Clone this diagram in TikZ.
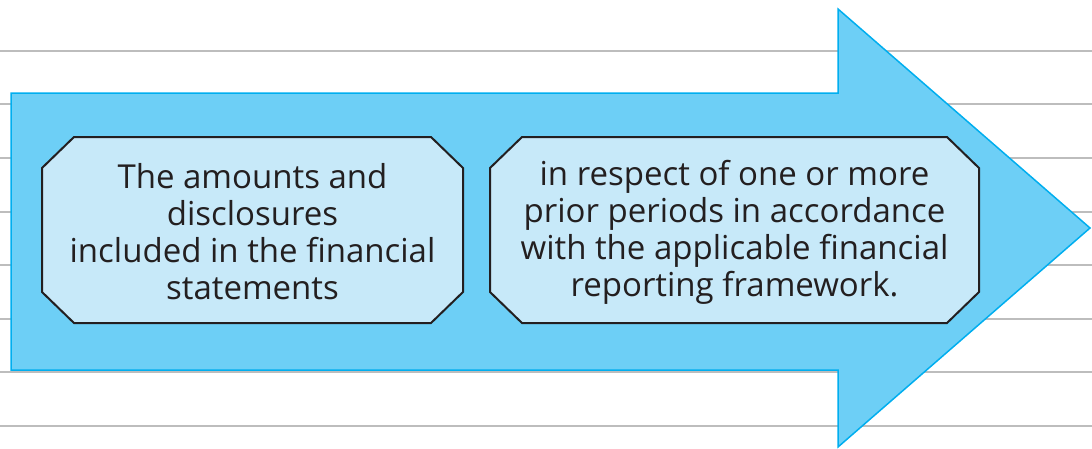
\documentclass[tikz,border=0pt]{standalone}
\usepackage{fontspec}
\setmainfont{Open Sans}
\definecolor{arrowfill}{HTML}{6DCFF6}
\definecolor{arrowline}{HTML}{00AEEF}
\definecolor{boxfill}{HTML}{C7E9F9}
\definecolor{boxline}{HTML}{231F20}
\definecolor{ruleline}{HTML}{BDBDBD}
\tikzset{
  panel/.style={fill=boxfill, draw=boxline, line width=2pt},
  paneltext/.style={text=boxline, align=center, inner sep=0pt,
    font=\fontsize{33}{37}\selectfont},
  bigarrow/.style={fill=arrowfill, draw=arrowline, line width=1.5pt}
}
% chamfered box from (x1,y1) to (x2,y2), corners cut by 32
\newcommand{\cutbox}[4]{%
  \draw[panel] (#1+32,#2) -- (#3-32,#2) -- (#3,#2+31) -- (#3,#4-31)
    -- (#3-32,#4) -- (#1+32,#4) -- (#1,#4-31) -- (#1,#2+31) -- cycle;}
\begin{document}
\begin{tikzpicture}[x=1pt, y=-1pt]
\useasboundingbox (0,0) rectangle (1092,448);
% ruled lines
\foreach \y in {51,104,158,212,265,319,372,426}
  \draw[ruleline, line width=1.2pt] (0,\y) -- (1092,\y);
% the arrow
\draw[bigarrow] (11,93) -- (838,93) -- (838,9) -- (1090,228) -- (838,447)
  -- (838,370) -- (11,370) -- cycle;
% the two boxes
\cutbox{42}{137}{463}{323}
\cutbox{490}{137}{979}{323}
\node[paneltext] (amounts) at (252.5,232)
  {The amounts and\\disclosures\\included in the financial\\statements};
\node[paneltext] (periods) at (734.5,232)
  {in respect of one or more\\prior periods in accordance\\with the applicable financial\\reporting framework.};
\end{tikzpicture}
\end{document}
